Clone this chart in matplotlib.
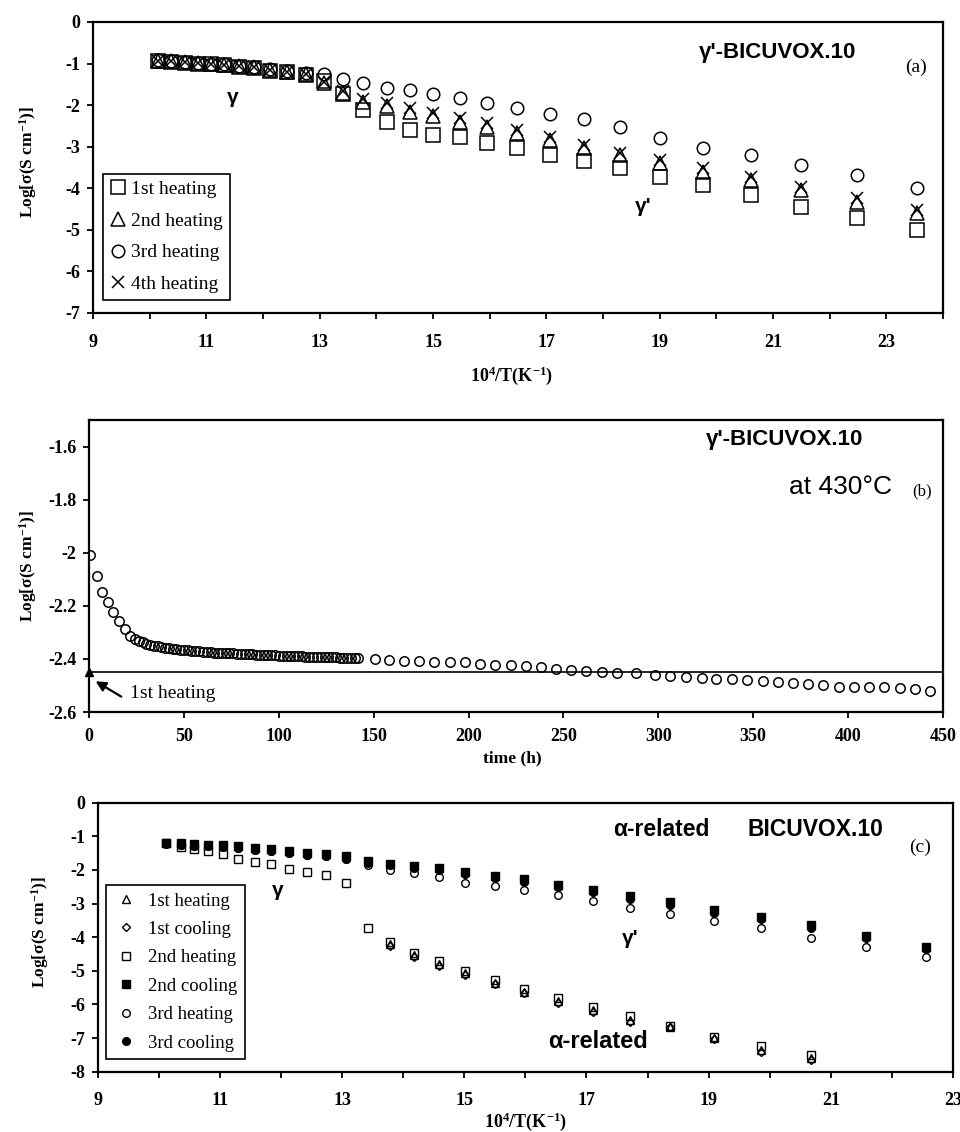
import matplotlib
matplotlib.use("Agg")
import matplotlib.pyplot as plt
from matplotlib.ticker import FixedLocator, FuncFormatter
from matplotlib.lines import Line2D

plt.rcParams['font.family'] = ['Liberation Serif', 'DejaVu Serif']
plt.rcParams['font.weight'] = 'bold'
plt.rcParams['axes.unicode_minus'] = False
plt.rcParams['mathtext.fontset'] = 'custom'
plt.rcParams['mathtext.rm'] = 'Liberation Serif:bold'
plt.rcParams['mathtext.bf'] = 'Liberation Serif:bold'
plt.rcParams['mathtext.it'] = 'Liberation Serif:bold'

# ---------------- Panel (a) data ----------------
x_a = [10.15, 10.38, 10.62, 10.85, 11.08, 11.32, 11.58, 11.84, 12.13, 12.43,
       12.75, 13.07, 13.42, 13.77, 14.18, 14.59, 15.00, 15.47, 15.96, 16.49,
       17.07, 17.67, 18.30, 19.00, 19.77, 20.61, 21.49, 22.49, 23.54]
a_heat1 = [-0.94, -0.96, -0.98, -1.00, -1.02, -1.04, -1.08, -1.10, -1.17, -1.21,
           -1.27, -1.42, -1.74, -2.12, -2.40, -2.60, -2.72, -2.76, -2.92, -3.04,
           -3.20, -3.34, -3.52, -3.72, -3.92, -4.16, -4.46, -4.72, -5.00]
a_heat2 = [-0.93, -0.95, -0.97, -0.99, -1.01, -1.03, -1.07, -1.09, -1.16, -1.20,
           -1.26, -1.46, -1.72, -1.92, -2.02, -2.16, -2.26, -2.40, -2.52, -2.68,
           -2.84, -3.04, -3.20, -3.40, -3.60, -3.80, -4.04, -4.32, -4.60]
a_heat3 = [-0.92, -0.94, -0.96, -0.98, -1.00, -1.02, -1.06, -1.08, -1.14, -1.18,
           -1.22, -1.26, -1.36, -1.48, -1.58, -1.64, -1.74, -1.82, -1.94, -2.06,
           -2.22, -2.34, -2.52, -2.80, -3.02, -3.20, -3.44, -3.68, -4.00]
a_heat4 = [-0.93, -0.95, -0.97, -0.99, -1.01, -1.03, -1.07, -1.09, -1.16, -1.20,
           -1.25, -1.44, -1.66, -1.86, -1.96, -2.08, -2.18, -2.32, -2.44, -2.60,
           -2.76, -2.96, -3.14, -3.32, -3.52, -3.72, -3.96, -4.24, -4.52]
a_labels = ['1st heating', '2nd heating', '3rd heating', '4th heating']

# ---------------- Panel (b) data ----------------
t_b = [0.5, 4.0, 6.7, 9.8, 12.5, 16.0, 19.0, 21.6,
       24.0, 26.1, 28.2, 30.0, 32.1, 34.0, 36.1, 38.0, 40.1, 42.0,
       44.1, 46.0, 48.1, 50.0, 52.1, 54.0, 56.1, 58.0, 60.1, 62.0,
       64.1, 66.0, 68.1, 70.0, 72.1, 74.0, 76.1, 78.0, 80.1, 82.0,
       84.1, 86.0, 88.1, 90.0, 92.1, 94.0, 96.1, 98.0, 100.1, 102.0,
       104.1, 106.0, 108.1, 110.0, 112.1, 114.0, 116.1, 118.0, 120.1, 122.0,
       124.1, 126.0, 128.1, 130.0, 132.1, 134.0, 136.1, 138.0, 140.1, 142.0,
       150.5, 158.3, 166.2, 173.8, 182.0, 190.3, 198.2, 206.1, 213.9, 222.2,
       230.3, 238.2, 246.1, 253.8, 261.9, 270.1, 278.0, 288.2, 298.2, 306.1,
       314.5, 322.8, 330.4, 338.6, 346.5, 354.9, 362.8, 371.1, 379.0, 386.9,
       395.2, 403.2, 410.9, 419.0, 427.3, 435.2, 443.4]
s_b = [-2.008, -2.086, -2.148, -2.184, -2.222, -2.259, -2.288, -2.312,
       -2.325, -2.333, -2.338, -2.343, -2.347, -2.350, -2.353, -2.356, -2.358, -2.360,
       -2.362, -2.364, -2.365, -2.367, -2.368, -2.370, -2.369, -2.372, -2.373, -2.374,
       -2.375, -2.376, -2.376, -2.377, -2.378, -2.379, -2.379, -2.380, -2.381, -2.382,
       -2.382, -2.383, -2.384, -2.385, -2.385, -2.386, -2.386, -2.387, -2.388, -2.388,
       -2.389, -2.389, -2.390, -2.390, -2.390, -2.391, -2.391, -2.392, -2.392, -2.392,
       -2.393, -2.393, -2.394, -2.394, -2.395, -2.395, -2.396, -2.396, -2.397, -2.398,
       -2.402, -2.404, -2.406, -2.407, -2.410, -2.413, -2.413, -2.418, -2.421, -2.423,
       -2.427, -2.432, -2.437, -2.443, -2.447, -2.448, -2.453, -2.452, -2.462, -2.466,
       -2.467, -2.472, -2.475, -2.476, -2.479, -2.485, -2.488, -2.491, -2.494, -2.498,
       -2.504, -2.505, -2.505, -2.507, -2.511, -2.514, -2.520]
b_first_heating = -2.45
b_first_t = 0.0

# ---------------- Panel (c) data ----------------
x_c = [10.12, 10.36, 10.58, 10.80, 11.05, 11.30, 11.57, 11.83, 12.13, 12.42,
       12.73, 13.07, 13.42, 13.79, 14.17, 14.59, 15.02, 15.50, 15.98, 16.53,
       17.10, 17.71, 18.37, 19.08, 19.85, 20.67, 21.58, 22.55]
c_cool2 = [-1.20, -1.21, -1.23, -1.25, -1.27, -1.30, -1.34, -1.39, -1.44, -1.49,
           -1.54, -1.60, -1.72, -1.81, -1.87, -1.95, -2.05, -2.17, -2.28, -2.44,
           -2.59, -2.78, -2.96, -3.20, -3.41, -3.65, -3.96, -4.28]
c_cool3 = [-1.24, -1.26, -1.28, -1.30, -1.32, -1.35, -1.40, -1.45, -1.50, -1.55,
           -1.60, -1.66, -1.78, -1.86, -1.93, -2.01, -2.11, -2.23, -2.35, -2.51,
           -2.66, -2.85, -3.03, -3.27, -3.47, -3.72, -4.01, -4.36]
c_heat3 = [-1.19, -1.26, -1.28, -1.30, -1.32, -1.35, -1.40, -1.45, -1.50, -1.55,
           -1.60, -1.66, -1.86, -2.00, -2.10, -2.22, -2.38, -2.48, -2.60, -2.75,
           -2.93, -3.13, -3.31, -3.51, -3.74, -4.01, -4.29, -4.58]
x_c_heat2 = [10.12, 10.36, 10.58, 10.80, 11.05, 11.30, 11.57, 11.83, 12.13, 12.42,
             12.73, 13.07, 13.42, 13.79, 14.17, 14.59, 15.02, 15.50, 15.98, 16.53,
             17.10, 17.71, 18.37, 19.08, 19.85, 20.67]
c_heat2 = [-1.19, -1.32, -1.39, -1.44, -1.53, -1.66, -1.76, -1.82, -1.96, -2.07,
           -2.16, -2.38, -3.74, -4.14, -4.46, -4.71, -5.00, -5.26, -5.53, -5.80,
           -6.07, -6.35, -6.64, -6.96, -7.23, -7.51]
x_c_alpha = [13.79, 14.17, 14.59, 15.02, 15.50, 15.98, 16.53, 17.10, 17.71,
             18.37, 19.08, 19.85, 20.67]
c_heat1 = [-4.20, -4.52, -4.80, -5.08, -5.35, -5.62, -5.90, -6.17, -6.47,
           -6.66, -7.00, -7.36, -7.60]
c_cool1 = [-4.25, -4.58, -4.86, -5.13, -5.40, -5.67, -5.95, -6.22, -6.52,
           -6.68, -7.04, -7.41, -7.66]
c_labels = ['1st heating', '1st cooling', '2nd heating', '2nd cooling',
            '3rd heating', '3rd cooling']

YLABEL = r'Log[σ(S cm$^{-1}$)]'
XLABEL_T = r'10$^{4}$/T(K$^{-1}$)'

fig = plt.figure(figsize=(9.6, 11.32), dpi=100)
axa = fig.add_axes([0.0969, 0.7235, 0.8854, 0.2571])
axb = fig.add_axes([0.0927, 0.3710, 0.8896, 0.2580])
axc = fig.add_axes([0.1018, 0.0533, 0.8909, 0.2376])

def style(ax, xpad):
    for sp in ax.spines.values():
        sp.set_linewidth(1.6)
    ax.tick_params(which='both', direction='out', length=4, width=1.3,
                   labelsize=13)
    ax.tick_params(axis='x', which='both', pad=xpad)
    ax.tick_params(axis='y', which='both', pad=5)
    ax.tick_params(top=False, right=False)

fmt = FuncFormatter(lambda v, p: '%g' % v)

# ---------- (a) ----------
ms_kw = dict(linestyle='none', color='black', mfc='none')
axa.plot(x_a, a_heat1, marker='s', ms=9.5, mew=1.1, label=a_labels[0], **ms_kw)
axa.plot(x_a, a_heat2, marker='^', ms=10, mew=1.1, label=a_labels[1], **ms_kw)
axa.plot(x_a, a_heat3, marker='o', ms=9, mew=1.1, label=a_labels[2], **ms_kw)
axa.plot(x_a, a_heat4, marker='x', ms=9, mew=1.1, label=a_labels[3], **ms_kw)
axa.set_xlim(9, 24)
axa.set_ylim(-7, 0)
axa.xaxis.set_major_locator(FixedLocator([9, 11, 13, 15, 17, 19, 21, 23]))
axa.xaxis.set_minor_locator(FixedLocator([10, 12, 14, 16, 18, 20, 22, 24]))
axa.yaxis.set_major_locator(FixedLocator([0, -1, -2, -3, -4, -5, -6, -7]))
axa.xaxis.set_major_formatter(fmt)
axa.yaxis.set_major_formatter(fmt)
style(axa, 11)
leg = axa.legend(loc='lower left', bbox_to_anchor=(0.012, 0.045), borderaxespad=0,
                 prop={'family': 'Liberation Serif', 'weight': 'normal', 'size': 14},
                 frameon=True, fancybox=False, edgecolor='black', framealpha=1,
                 handlelength=0.8, handletextpad=0.3, labelspacing=0.72,
                 borderpad=0.35)
leg.get_frame().set_linewidth(1.2)
axa.text(21.08, -0.73, "γ'-BICUVOX.10", family='Liberation Sans', weight='bold',
         fontsize=16, ha='center', va='center')
axa.text(23.52, -1.08, '(a)', weight='normal', fontsize=14, ha='center', va='center')
axa.text(11.46, -1.81, 'γ', family='Liberation Sans', weight='bold', fontsize=15,
         ha='center', va='center')
axa.text(18.7, -4.45, "γ'", family='Liberation Sans', weight='bold', fontsize=15,
         ha='center', va='center')
axa.text(0.492, -0.216, XLABEL_T, transform=axa.transAxes, fontsize=13,
         weight='bold', ha='center', va='center')
axa.text(-0.0765, 0.519, YLABEL, transform=axa.transAxes, fontsize=12.5,
         weight='bold', ha='center', va='center', rotation=90)

# ---------- (b) ----------
axb.plot(t_b, s_b, linestyle='none', marker='o', ms=6.8, mew=1.1, color='black',
         mfc='none')
axb.axhline(b_first_heating, color='black', lw=1.2)
axb.plot([b_first_t], [b_first_heating], marker='^', ms=6, color='black',
         clip_on=False)
axb.annotate('', xy=(3.5, -2.484), xytext=(17.0, -2.542),
             arrowprops=dict(arrowstyle='-|>,head_length=0.6,head_width=0.3',
                             color='black', lw=1.6, shrinkA=0, shrinkB=0))
axb.text(21.6, -2.532, '1st heating', weight='normal', fontsize=14,
         ha='left', va='center')
axb.set_xlim(0, 450)
axb.set_ylim(-2.6, -1.5)
axb.xaxis.set_major_locator(FixedLocator([0, 50, 100, 150, 200, 250, 300, 350, 400, 450]))
axb.yaxis.set_major_locator(FixedLocator([-1.6, -1.8, -2.0, -2.2, -2.4, -2.6]))
axb.xaxis.set_major_formatter(fmt)
axb.yaxis.set_major_formatter(fmt)
style(axb, 7.5)
axb.text(366.7, -1.575, "γ'-BICUVOX.10", family='Liberation Sans', weight='bold',
         fontsize=16, ha='center', va='center')
axb.text(396, -1.752, 'at 430°C', family='Liberation Sans', weight='normal',
         fontsize=19, ha='center', va='center')
axb.text(438.7, -1.77, '(b)', weight='normal', fontsize=12, ha='center', va='center')
axb.text(0.496, -0.158, 'time (h)', transform=axb.transAxes, fontsize=12.5,
         weight='bold', ha='center', va='center')
axb.text(-0.0714, 0.5, YLABEL, transform=axb.transAxes, fontsize=12.5,
         weight='bold', ha='center', va='center', rotation=90)

# ---------- (c) ----------
ck = dict(linestyle='none', color='black', mew=1.0)
axc.plot(x_c_alpha, c_heat1, marker='^', ms=5.5, mfc='none', **ck)
axc.plot(x_c_alpha, c_cool1, marker='D', ms=4.5, mfc='none', **ck)
axc.plot(x_c_heat2, c_heat2, marker='s', ms=5.5, mfc='none', **ck)
axc.plot(x_c, c_heat3, marker='o', ms=5.5, mfc='none', **ck)
axc.plot(x_c, c_cool2, marker='s', ms=5.5, mfc='black', **ck)
axc.plot(x_c, c_cool3, marker='o', ms=5.5, mfc='black', **ck)
axc.set_xlim(9, 23)
axc.set_ylim(-8, 0)
axc.xaxis.set_major_locator(FixedLocator([9, 11, 13, 15, 17, 19, 21, 23]))
axc.xaxis.set_minor_locator(FixedLocator([10, 12, 14, 16, 18, 20, 22]))
axc.yaxis.set_major_locator(FixedLocator([0, -1, -2, -3, -4, -5, -6, -7, -8]))
axc.xaxis.set_major_formatter(fmt)
axc.yaxis.set_major_formatter(fmt)
style(axc, 11)
handles_c = [
    Line2D([], [], marker='^', ms=5.5, mfc='none', **ck),
    Line2D([], [], marker='D', ms=4.5, mfc='none', **ck),
    Line2D([], [], marker='s', ms=5.5, mfc='none', **ck),
    Line2D([], [], marker='s', ms=5.5, mfc='black', **ck),
    Line2D([], [], marker='o', ms=5.5, mfc='none', **ck),
    Line2D([], [], marker='o', ms=5.5, mfc='black', **ck),
]
legc = axc.legend(handles_c, c_labels, loc='lower left', bbox_to_anchor=(0.0094, 0.047),
                  borderaxespad=0,
                  prop={'family': 'Liberation Serif', 'weight': 'normal', 'size': 13.5},
                  frameon=True, fancybox=False, edgecolor='black', framealpha=1,
                  handlelength=1.4, handletextpad=0.45, labelspacing=0.6,
                  borderpad=0.4)
legc.get_frame().set_linewidth(1.2)
axc.text(18.22, -0.81, 'α-related', family='Liberation Sans', weight='bold',
         fontsize=16.5, ha='center', va='center')
axc.text(20.75, -0.81, 'BICUVOX.10', family='Liberation Sans', weight='bold',
         fontsize=16.5, ha='center', va='center')
axc.text(22.46, -1.33, '(c)', weight='normal', fontsize=14, ha='center', va='center')
axc.text(11.95, -2.6, 'γ', family='Liberation Sans', weight='bold', fontsize=15,
         ha='center', va='center')
axc.text(17.72, -4.04, "γ'", family='Liberation Sans', weight='bold', fontsize=15,
         ha='center', va='center')
axc.text(17.19, -7.11, 'α-related', family='Liberation Sans', weight='bold',
         fontsize=17, ha='center', va='center')
axc.text(0.5, -0.186, XLABEL_T, transform=axc.transAxes, fontsize=13,
         weight='bold', ha='center', va='center')
axc.text(-0.0675, 0.519, YLABEL, transform=axc.transAxes, fontsize=12.5,
         weight='bold', ha='center', va='center', rotation=90)

fig.savefig('out.png', dpi=100)
